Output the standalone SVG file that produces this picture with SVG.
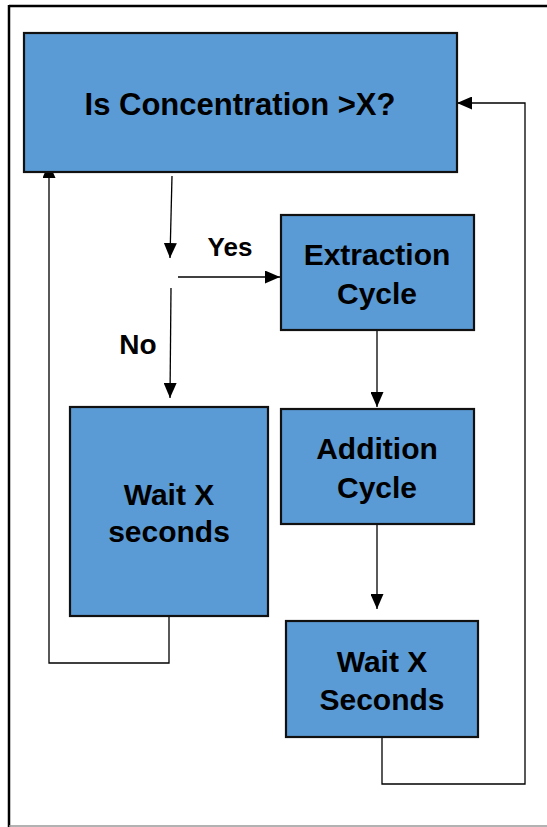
<svg xmlns="http://www.w3.org/2000/svg" width="547" height="827" viewBox="0 0 547 827">
  <defs>
    <marker id="arr" markerUnits="userSpaceOnUse" markerWidth="15" markerHeight="13" refX="15" refY="6.5" orient="auto">
      <path d="M0,0 L15,6.5 L0,13 z" fill="#000"/>
    </marker>
  </defs>
  <style>
    .box { fill: #5B9BD5; stroke: #111; stroke-width: 2.2; }
    .lbl { font-family: "Liberation Sans", Arial, sans-serif; font-weight: bold; fill: #000; text-anchor: middle; }
    .conn { fill: none; stroke: #000; stroke-width: 1.3; }
  </style>
  <rect width="547" height="827" fill="#fff"/>
  <g id="frame">
    <line x1="9" y1="6" x2="547" y2="6" stroke="#000" stroke-width="2.5"/>
    <line x1="9" y1="5" x2="9" y2="827" stroke="#000" stroke-width="2.5"/>
    <line x1="9" y1="826" x2="547" y2="826" stroke="#999" stroke-width="1.5"/>
  </g>
  <g id="connectors">
    <line class="conn" x1="172" y1="176" x2="170" y2="258" marker-end="url(#arr)"/>
    <line class="conn" x1="178" y1="277" x2="280" y2="277" marker-end="url(#arr)"/>
    <line class="conn" x1="171" y1="288" x2="170" y2="398" marker-end="url(#arr)"/>
    <line class="conn" x1="377" y1="330" x2="377" y2="407" marker-end="url(#arr)"/>
    <line class="conn" x1="377" y1="524" x2="377" y2="609" marker-end="url(#arr)"/>
    <polyline class="conn" points="382,737 382,784 525,784 525,103 457,103" marker-end="url(#arr)"/>
    <polyline class="conn" points="169,616 169,663 49,663 49,163" marker-end="url(#arr)"/>
    <text class="lbl" x="230" y="256" font-size="26">Yes</text>
    <text class="lbl" x="138" y="354" font-size="28">No</text>
  </g>
  <g id="concentration">
    <rect class="box" x="24" y="33" width="433" height="139"/>
    <text class="lbl" x="240" y="115" font-size="31">Is Concentration &gt;X?</text>
  </g>
  <g id="extraction">
    <rect class="box" x="281" y="215" width="193" height="115"/>
    <text class="lbl" x="377" y="265" font-size="30">Extraction</text>
    <text class="lbl" x="377" y="304" font-size="30">Cycle</text>
  </g>
  <g id="addition">
    <rect class="box" x="281" y="409" width="193" height="115"/>
    <text class="lbl" x="377" y="459" font-size="30">Addition</text>
    <text class="lbl" x="377" y="498" font-size="30">Cycle</text>
  </g>
  <g id="wait-left">
    <rect class="box" x="70" y="407" width="198" height="209"/>
    <text class="lbl" x="169" y="505" font-size="30">Wait X</text>
    <text class="lbl" x="169" y="542" font-size="30">seconds</text>
  </g>
  <g id="wait-right">
    <rect class="box" x="286" y="621" width="192" height="116"/>
    <text class="lbl" x="382" y="672" font-size="30">Wait X</text>
    <text class="lbl" x="382" y="710" font-size="30">Seconds</text>
  </g>
</svg>
